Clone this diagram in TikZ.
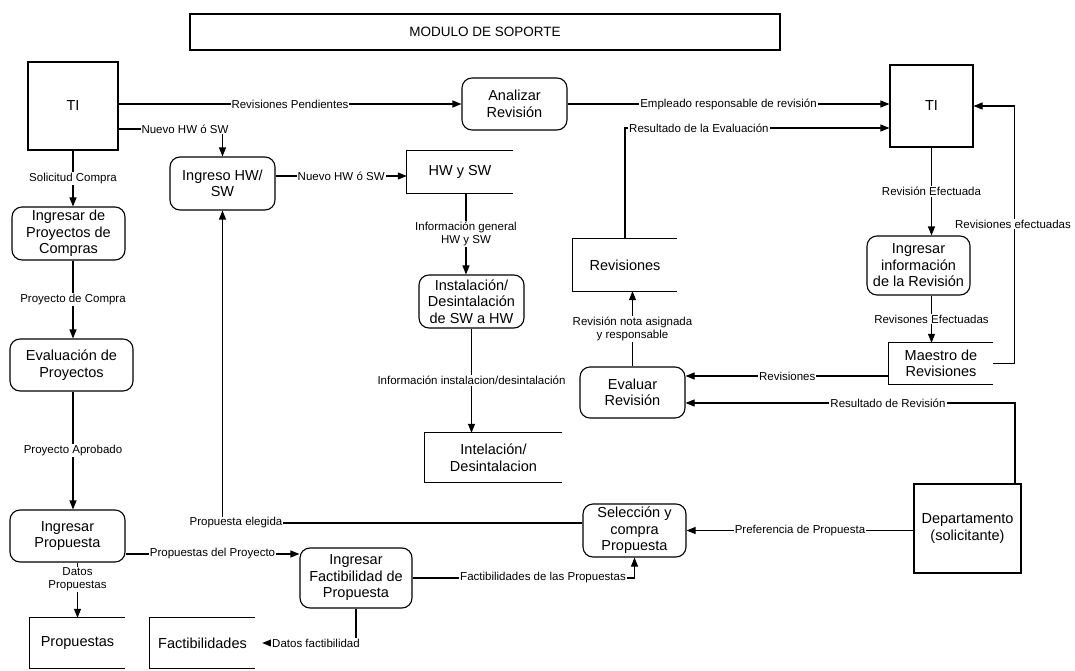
\documentclass[tikz,border=0pt]{standalone}
\usepackage{fontspec}
\setmainfont{Liberation Sans}
\usetikzlibrary{arrows.meta,calc}
\begin{document}
\begin{tikzpicture}[x=1pt,y=-1pt,
  every node/.style={font=\fontsize{14.5}{16.5}\selectfont, align=center, inner sep=0pt},
  sz/.style 2 args={minimum width=#1pt, minimum height=#2pt},
  proc/.style={draw, rounded corners=10pt, line width=1.1pt},
  entity/.style={draw, line width=1.1pt},
  store/.style={},
  storeline/.style={line width=1.1pt},
  flow/.style={line width=1.1pt, -{Triangle[length=9pt,width=7pt]}},
  conn/.style={line width=1.1pt},
  lbl/.style={font=\fontsize{11.5}{12.5}\selectfont, fill=white, inner sep=1pt}]

\useasboundingbox[fill=white] (0,0) rectangle (1075,671);

% ---- title ----
\node[entity, sz={590}{36}, font=\fontsize{13.5}{16}\selectfont] (title) at (485,32) {MODULO DE SOPORTE};

% ---- external entities ----
\node[entity, sz={90}{88}] (tiL) at (73,106) {TI};
\node[entity, sz={83}{82}] (tiR) at (931.5,106) {TI};
\node[entity, sz={107}{89}] (depto) at (967.5,528.5) {Departamento\\(solicitante)};

% ---- processes ----
\node[proc, sz={105}{52}] (analizar) at (514.5,104) {Analizar\\Revisión};
\node[proc, sz={105}{53}] (ingreso) at (222.5,183.5) {Ingreso HW/\\SW};
\node[proc, sz={113}{53}] (compras) at (68.5,233.5) {Ingresar de\\Proyectos de\\Compras};
\node[proc, sz={103}{59}] (infoRev) at (918.5,265.5) {Ingresar\\información\\de la Revisión};
\node[proc, sz={105}{53}] (instal) at (471.5,301.5) {Instalación/\\Desintalación\\de SW a HW};
\node[proc, sz={123}{52}] (evalProy) at (71.5,365) {Evaluación de\\Proyectos};
\node[proc, sz={105}{51}] (evalRev) at (632.5,392.5) {Evaluar\\Revisión};
\node[proc, sz={103}{53}] (seleccion) at (634.5,530.5) {Selección y\\compra\\Propuesta};
\node[proc, sz={115}{52}] (ingProp) at (67.5,536) {Ingresar\\Propuesta};
\node[proc, sz={112}{60}] (fact) at (356,578) {Ingresar\\Factibilidad de\\Propuesta};

% ---- data stores (open on the right) ----
\node[store, sz={106}{42}] (hwsw) at (460,172) {HW y SW};
\node[store, sz={104}{52}] (revisiones) at (625,265) {Revisiones};
\node[store, sz={104}{41}] (maestro) at (941,363.5) {Maestro de\\Revisiones};
\node[store, sz={137}{49}] (intel) at (493.5,457.5) {Intelación/\\Desintalacion};
\node[store, sz={95}{50}] (propuestas) at (77.5,643) {Propuestas};
\node[store, sz={105}{50}] (factib) at (202.5,643) {Factibilidades};
\foreach \s in {hwsw,revisiones,maestro,intel,propuestas,factib}
  \draw[storeline] (\s.north east) -- (\s.north west) -- (\s.south west) -- (\s.south east);

% ---- left column ----
\draw[flow] (tiL.south) -- node[lbl] {Solicitud Compra} (tiL.south |- compras.north);
\draw[flow] (tiL.south |- compras.south) -- node[lbl] {Proyecto de Compra} (tiL.south |- evalProy.north);
\draw[flow] (tiL.south |- evalProy.south) -- node[lbl] {Proyecto Aprobado} (tiL.south |- ingProp.north);
\draw[flow] (propuestas.north |- ingProp.south) -- node[lbl, pos=0.3] {Datos\\Propuestas} (propuestas.north);

% ---- top row ----
\draw[flow] (tiL.east |- analizar.west) -- node[lbl] {Revisiones Pendientes} (analizar.west);
\draw[flow] ([yshift=-23pt]tiL.east) -| (ingreso.north);
\node[lbl] (lNuevoA) at (185,129) {Nuevo HW ó SW};
\draw[flow] ([yshift=7.5pt]ingreso.east) -- node[lbl] {Nuevo HW ó SW} ([yshift=7.5pt]ingreso.east -| hwsw.west);
\coordinate (hw1) at ($(hwsw.south)+(6,0)$);
\draw[flow] (hw1) -- node[lbl] {Información general\\HW y SW} (hw1 |- instal.north);
\draw[flow] (instal.south) -- node[lbl] {Información instalacion/desintalación} (instal.south |- intel.north);
\draw[flow] (analizar.east) -- node[lbl] {Empleado responsable de revisión} (analizar.east -| tiR.west);
\draw[flow] (revisiones.north) |- ([yshift=-22pt]tiR.west);
\node[lbl, anchor=west] (lResEval) at (628,128) {Resultado de la Evaluación};

% ---- right column ----
\draw[flow] (tiR.south) -- node[lbl] {Revisión Efectuada} (tiR.south |- infoRev.north);
\draw[flow] (infoRev.south -| tiR.south) -- node[lbl] {Revisones Efectuadas} (tiR.south |- maestro.north);
\draw[flow] (maestro.east) -- ++(21,0) |- (tiR.east);
\node[lbl] (lRevEf) at (1013,224) {Revisiones efectuadas};
\draw[flow] ([yshift=-12.5pt]maestro.west) -- node[lbl] {Revisiones} ([yshift=-12.5pt]maestro.west -| evalRev.east);
\draw[flow] ([xshift=47.5pt]depto.north) |- ([yshift=-10.5pt]evalRev.east);
\node[lbl] (lResRev) at (888,403) {Resultado de Revisión};
\draw[flow] (evalRev.north) -- node[lbl] {Revisión  nota asignada\\y responsable} (evalRev.north |- revisiones.south);

% ---- bottom row ----
\draw[flow] (depto.west |- seleccion.east) -- node[lbl] {Preferencia de Propuesta} (seleccion.east);
\draw[flow] ([yshift=7.5pt]seleccion.west) -| (ingreso.south);
\node[lbl] (lElegida) at (236,523) {Propuesta elegida};
\draw[flow] ([yshift=-18pt]ingProp.east) -- node[lbl] {Propuestas del Proyecto} ([yshift=-18pt]ingProp.east -| fact.west);
\draw[flow] (fact.east) -| (seleccion.south);
\node[lbl] (lFactProp) at (543,578) {Factibilidades de las Propuestas};
\draw[flow] (fact.south) |- ([xshift=7pt]factib.east);
\node[lbl] (lDatosFact) at (316,643) {Datos factibilidad};

\end{tikzpicture}
\end{document}
